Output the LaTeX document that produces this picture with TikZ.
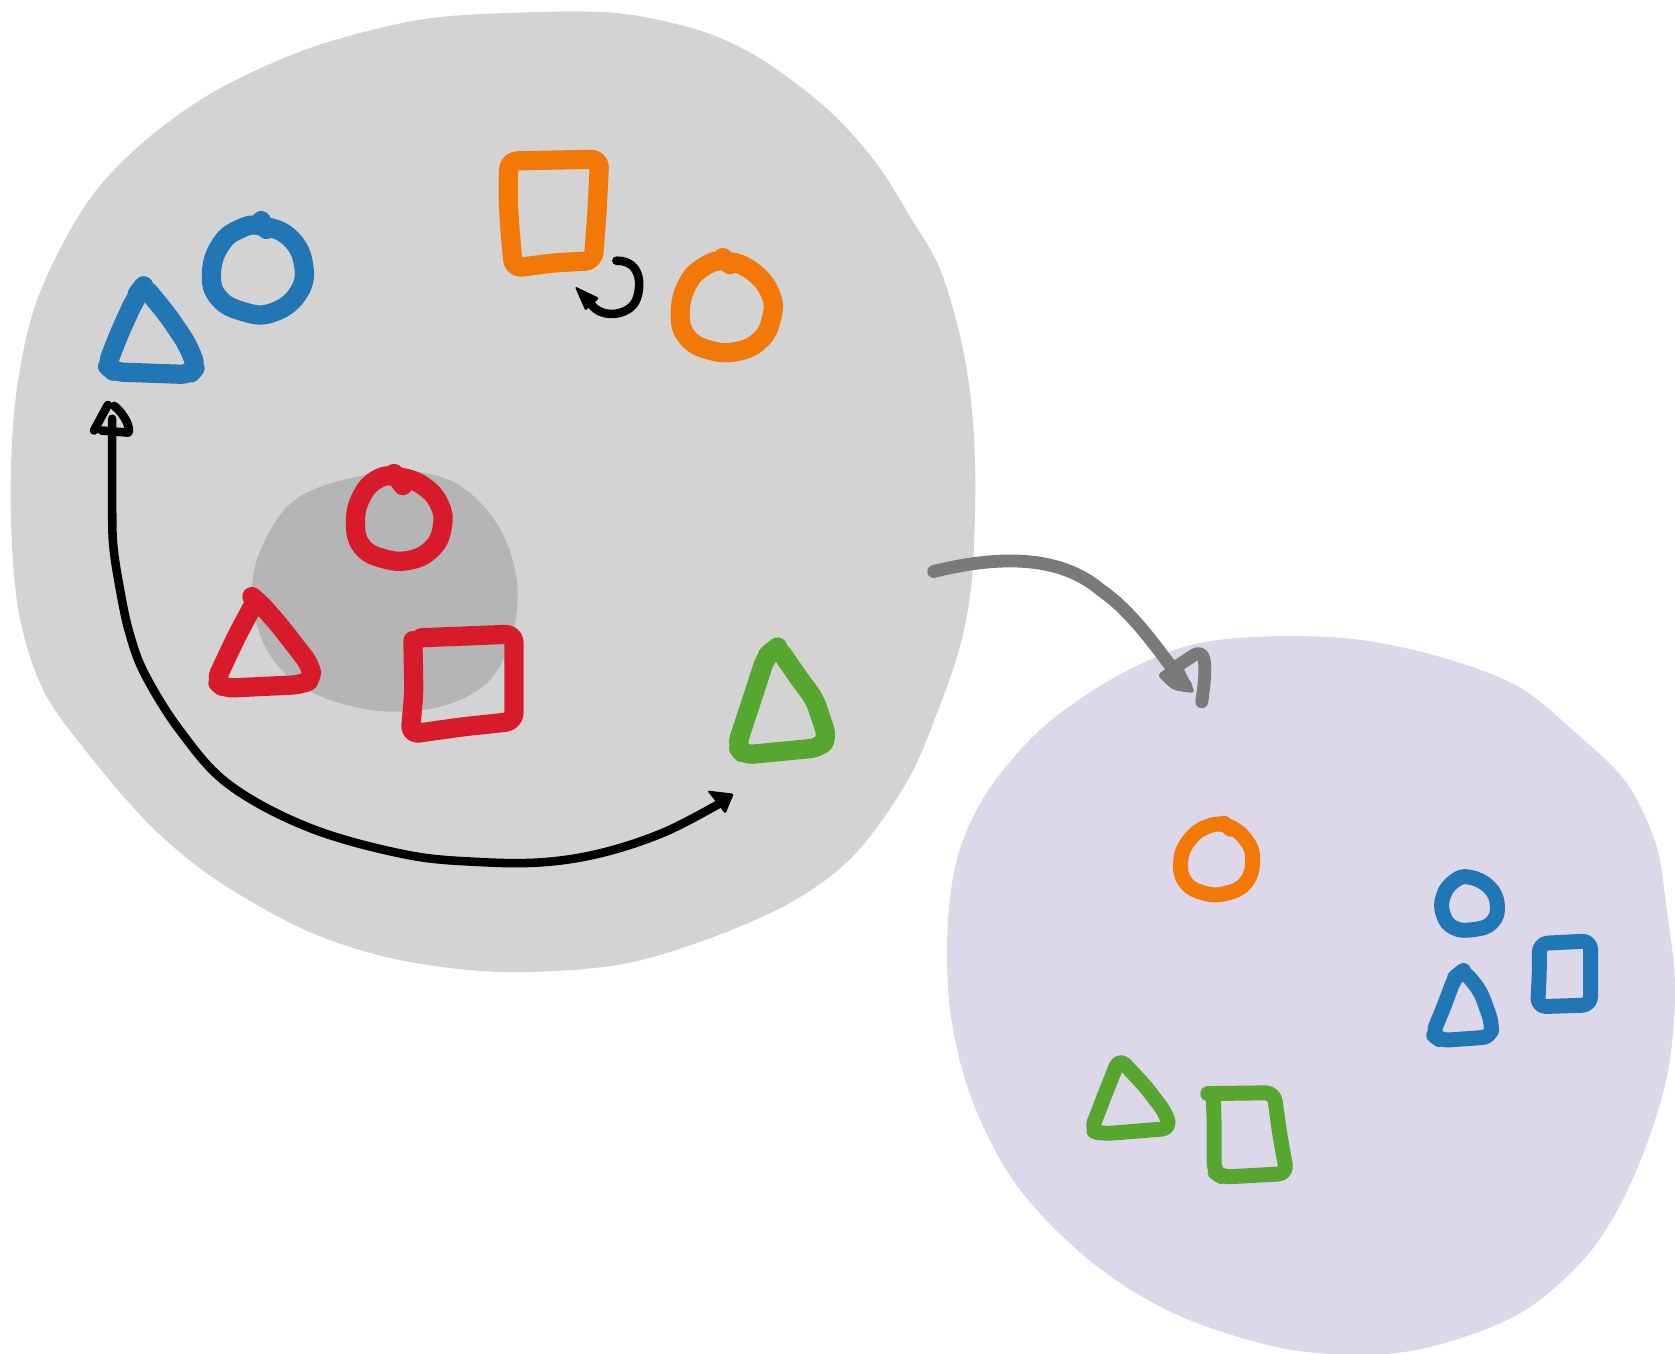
\documentclass[tikz,border=0pt]{standalone}
\definecolor{blobgray}{RGB}{211,211,211}
\definecolor{innergray}{RGB}{181,181,181}
\definecolor{blobpurple}{RGB}{220,215,233}
\definecolor{cblue}{RGB}{33,118,182}
\definecolor{corange}{RGB}{242,120,8}
\definecolor{cred}{RGB}{216,27,42}
\definecolor{cgreen}{RGB}{86,166,48}
\definecolor{arrowgray}{RGB}{122,122,122}
\tikzset{
  pen/.style={line width=18pt, line cap=round, line join=round},
  smallpen/.style={line width=14pt, line cap=round, line join=round},
  corner/.style={rounded corners=8pt},
  blackpen/.style={line width=8pt, line cap=round, line join=round, black},
  graypen/.style={line width=12pt, line cap=round, line join=round, arrowgray},
}
\begin{document}
\begin{tikzpicture}[x=1pt,y=-1pt]
\useasboundingbox (0,0) rectangle (1568,1267);
% big gray blob
\fill[blobgray] plot[smooth cycle, tension=0.55] coordinates {
 (480,12) (575,12) (650,27) (700,48) (745,78) (785,112) (822,155) (852,203) (880,252)
 (900,320) (910,385) (913,455) (910,540) (900,600) (880,660) (850,730) (800,800)
 (740,845) (660,880) (580,903) (490,910) (420,906) (350,893) (280,868) (200,822)
 (140,772) (82,705) (40,645) (17,570) (10,470) (15,370) (35,280) (80,192) (132,135)
 (200,86) (290,45) (390,19)};
% inner dark blob
\fill[innergray] plot[smooth cycle, tension=0.6] coordinates {
 (360,442) (422,450) (465,490) (484,545) (478,600) (455,640) (410,662) (350,665)
 (290,647) (252,612) (236,560) (246,510) (282,464)};
% purple blob
\fill[blobpurple] plot[smooth cycle, tension=0.55] coordinates {
 (1180,596) (1265,598) (1345,614) (1420,642) (1475,686) (1522,732) (1550,790)
 (1560,850) (1568,925) (1560,1010) (1530,1100) (1490,1170) (1430,1225) (1360,1255)
 (1290,1268) (1200,1262) (1100,1230) (1020,1180) (952,1110) (910,1030) (890,950)
 (887,870) (897,800) (925,740) (975,682) (1040,636) (1110,605)};

% ---- blue triangle / circle (top left)
\begin{scope}[scale around={0.84:(142,312)}]
\draw[pen,cblue,corner] (133,259) -- (160,292) -- (181,323) -- (192,349) -- (184,358)
  -- (100,355) -- (92,348) -- (106,312) -- (121,279) -- cycle;
\draw[pen,cblue] (126,268) -- (133,259);
\end{scope}
\begin{scope}[scale around={0.83:(242,253)}]
\draw[pen,cblue] plot[smooth cycle, tension=0.75] coordinates {
 (245,203) (277,216) (293,248) (286,280) (257,301) (226,300) (197,284) (189,255) (200,223) (222,206)};
\draw[pen,cblue] (245,197) -- (251,207);
\end{scope}

% ---- orange square / circle
\begin{scope}[scale around={0.85:(518,200)}]
\draw[pen,corange,corner] (469,142) -- (569,140) -- (566,200) -- (562,252) -- (520,254)
  -- (474,260) -- (470,215) -- (468,180) -- cycle;
\end{scope}
\begin{scope}[scale around={0.83:(680,286)}]
\draw[pen,corange] plot[smooth cycle, tension=0.75] coordinates {
 (680,236) (710,248) (730,274) (731,300) (718,325) (691,338) (660,336) (636,322) (628,297) (635,264) (655,242)};
\draw[pen,corange] (676,232) -- (684,240);
\end{scope}

% black curl arrow
\coordinate (curlA) at (577,244);
\coordinate (curlB) at (551,281);
\draw[blackpen] (curlA) .. controls (603,244) and (600,272) .. (595,282)
  .. controls (588,296) and (560,300) .. (curlB);
\fill[black, rounded corners=2pt] (538,268) -- (561,279) -- (548,291) -- cycle;

% ---- red group
\begin{scope}[scale around={0.82:(373,485)}]
\draw[pen,cred] plot[smooth cycle, tension=0.75] coordinates {
 (373,438) (401,448) (420,470) (423,495) (412,519) (386,533) (355,531) (331,517) (324,490) (331,460) (350,440)};
\draw[pen,cred] (368,434) -- (378,448);
\end{scope}
\begin{scope}[scale around={0.85:(246,612)}]
\draw[pen,cred,corner] (239,552) -- (263,579) -- (298,624) -- (301,640) -- (288,646)
  -- (204,650) -- (194,642) -- (217,593) -- cycle;
\draw[pen,cred] (234,549) -- (241,555);
\end{scope}
\begin{scope}[scale around={0.86:(433,640)}]
\draw[pen,cred,corner] (388,590) -- (489,586) -- (489,681) -- (433,687) -- (376,695)
  -- (380,650) -- (379,593);
\end{scope}

% ---- green triangle (gray blob)
\begin{scope}[scale around={0.85:(733,660)}]
\draw[pen,cgreen,corner] (727,596) -- (748,627) -- (768,654) -- (782,696) -- (773,707)
  -- (690,715) -- (682,705) -- (702,644) -- (714,607) -- cycle;
\draw[pen,cgreen] (716,605) -- (727,596);
\end{scope}

% big black arrow
\coordinate (bigA) at (105,392);
\coordinate (bigB) at (674,752);
\draw[blackpen] plot[smooth, tension=0.6] coordinates {
 (bigA) (105,470) (106,510) (112,550) (121,592) (136,632) (170,686) (215,735)
 (290,775) (380,800) (450,807) (510,807) (565,798) (622,779) (bigB)};
\fill[black, rounded corners=2pt] (662,740) -- (687,743) -- (679,762) -- cycle;
\draw[blackpen] (88,403) -- (101,379);
\draw[blackpen] (107,380) .. controls (117,388) and (123,402) .. (120,405) -- (95,403);

% gray arrow between blobs
\coordinate (grA) at (874,535);
\coordinate (grB) at (1110,642);
\draw[graypen] (grA) .. controls (930,521) and (990,518) .. (1030,552)
  .. controls (1062,574) and (1085,610) .. (grB);
\fill[arrowgray, rounded corners=4pt] (1083,632) -- (1104,617) -- (1119,649) -- (1098,646) -- cycle;
\draw[graypen] (1098,626) -- (1118,613) .. controls (1129,607) and (1130,622) .. (1125,657);

% ---- purple blob contents
\begin{scope}[scale around={0.82:(1139,805)}]
\draw[smallpen,corange] plot[smooth cycle, tension=0.75] coordinates {
 (1151,766) (1173,783) (1180,806) (1172,831) (1150,843) (1125,843) (1103,830) (1098,805) (1108,782) (1128,767)};
\draw[smallpen,corange] (1147,763) -- (1155,770);
\end{scope}
\begin{scope}[scale around={0.78:(1376,846)}]
\draw[smallpen,cblue] plot[smooth cycle, tension=0.75] coordinates {
 (1375,814) (1399,826) (1409,848) (1402,869) (1380,877) (1357,875) (1344,859) (1344,837) (1357,819)};
\end{scope}
\begin{scope}[scale around={0.8:(1465,912)}]
\draw[smallpen,cblue,corner] (1435,876) -- (1495,873) -- (1495,948) -- (1433,950) -- (1435,910) -- cycle;
\end{scope}
\begin{scope}[scale around={0.83:(1370,945)}]
\draw[smallpen,cblue,corner] (1370,901) -- (1389,924) -- (1402,960) -- (1401,976) -- (1344,980)
  -- (1335,973) -- (1349,939) -- (1360,909) -- cycle;
\draw[smallpen,cblue] (1360,909) -- (1370,901);
\end{scope}
\begin{scope}[scale around={0.85:(1058,1030)}]
\draw[smallpen,cgreen,corner] (1046,984) -- (1075,1015) -- (1097,1044) -- (1102,1061)
  -- (1027,1067) -- (1015,1063) -- (1030,1024) -- cycle;
\end{scope}
\begin{scope}[scale around={0.85:(1168,1062)}]
\draw[smallpen,cgreen,corner] (1124,1017) -- (1197,1016) -- (1203,1060) -- (1211,1105)
  -- (1140,1109) -- (1131,1103) -- (1131,1045) -- (1130,1020);
\end{scope}
\end{tikzpicture}
\end{document}
